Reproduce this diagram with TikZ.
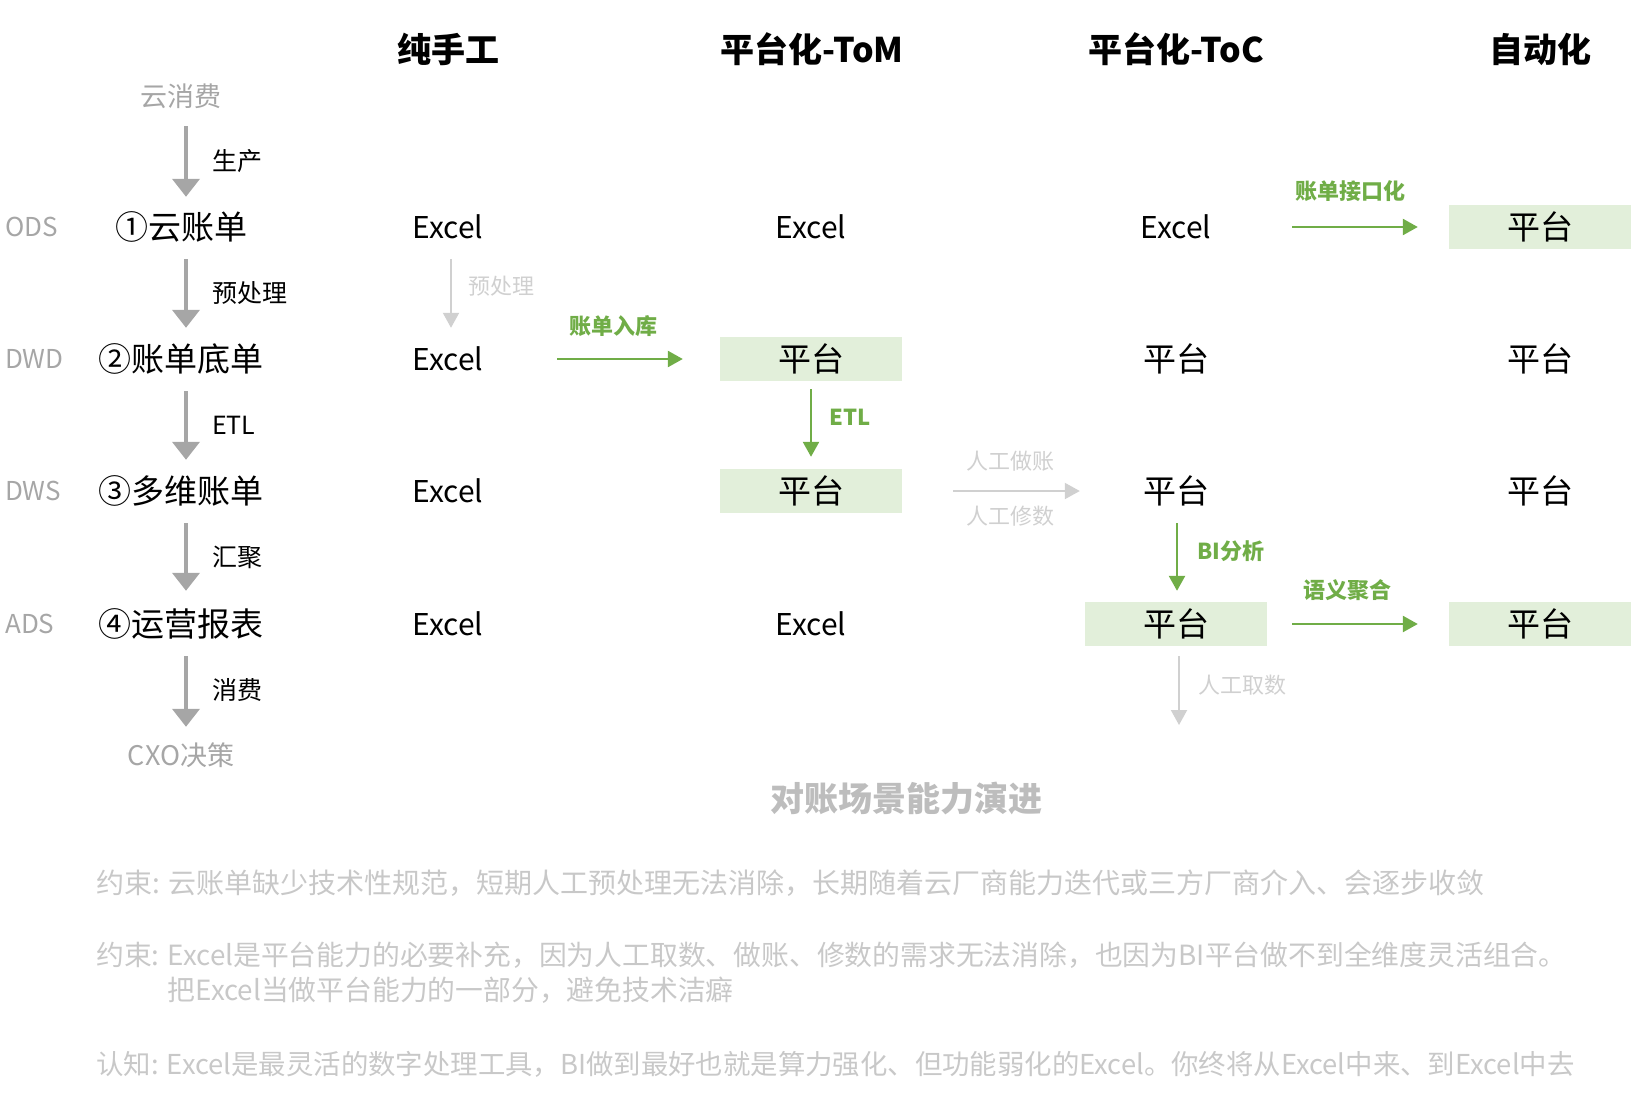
\documentclass[tikz,border=0pt]{standalone}
\usepackage{fontspec}
\setmainfont{Noto Sans CJK SC}
\usetikzlibrary{arrows.meta,positioning}
\definecolor{boxgreen}{HTML}{E2EFDA}
\definecolor{flowgreen}{HTML}{70AD47}
\definecolor{midgray}{HTML}{A6A6A6}
\definecolor{faintgray}{HTML}{D0D0D0}
\definecolor{notegray}{HTML}{C8C8C8}
\definecolor{titlegray}{HTML}{BDBDBD}
\tikzset{
  colhead/.style={font=\fontsize{34}{40}\selectfont\bfseries},
  layer/.style={anchor=west, text=midgray, font=\fontsize{26}{30}\selectfont, inner sep=0pt},
  stage/.style={font=\fontsize{33}{38}\selectfont, minimum height=44pt, inner sep=0pt},
  endpt/.style={text=midgray, font=\fontsize{27}{32}\selectfont, minimum height=44pt, inner sep=0pt},
  cell/.style={minimum width=182pt, minimum height=44pt, inner sep=0pt, font=\fontsize{33}{38}\selectfont},
  xls/.style={cell, font=\fontsize{30}{36}\selectfont},
  plat/.style={cell, fill=boxgreen},
  mainflow/.style={-{Triangle[length=18pt,width=27pt]}, line width=4pt, draw=midgray},
  greenflow/.style={-{Triangle[length=15pt,width=16pt]}, line width=2.5pt, draw=flowgreen},
  faintflow/.style={-{Triangle[length=15pt,width=16pt]}, line width=2pt, draw=faintgray},
  steplbl/.style={font=\fontsize{25}{30}\selectfont, inner sep=0pt},
  greenlbl/.style={text=flowgreen, font=\fontsize{22}{26}\selectfont\bfseries, inner sep=0pt},
  faintlbl/.style={text=faintgray, font=\fontsize{22}{26}\selectfont, inner sep=0pt},
  note/.style={anchor=west, text=notegray, font=\fontsize{28}{35}\selectfont, inner sep=0pt, align=left}
}

\begin{document}
\begin{tikzpicture}[x=1pt, y=-1pt]
  \useasboundingbox (0,0) rectangle (1646,1098);
  % column heads
  \node[colhead] (hd1) at (448,49) {纯手工};
  \node[colhead] (hd2) at (812,49) {平台化-ToM};
  \node[colhead] (hd3) at (1176,49) {平台化-ToC};
  \node[colhead] (hd4) at (1540,49) {自动化};
  % layer tags
  \node[layer] (ods) at (5,227) {ODS};
  \node[layer] (dwd) at (5,359) {DWD};
  \node[layer] (dws) at (5,491) {DWS};
  \node[layer] (ads) at (5,624) {ADS};
  % left chain
  \node[endpt] (src) at (181,96) {云消费};
  \node[stage] (bill) at (181,227) {①云账单};
  \node[stage] (base) at (181,359) {②账单底单};
  \node[stage] (multi) at (181,491) {③多维账单};
  \node[stage] (report) at (181,624) {④运营报表};
  \node[endpt] (cxo) at (181,755) {CXO决策};
  \draw[mainflow, shorten <=8pt, shorten >=8pt] ([xshift=5pt]src.south) --
        node[steplbl, right=24pt]{生产} ([xshift=5pt]bill.north);
  \draw[mainflow, shorten <=10pt, shorten >=9pt] ([xshift=5pt]bill.south) --
        node[steplbl, right=24pt]{预处理} ([xshift=5pt]base.north);
  \draw[mainflow, shorten <=10pt, shorten >=9pt] ([xshift=5pt]base.south) --
        node[steplbl, right=24pt]{ETL} ([xshift=5pt]multi.north);
  \draw[mainflow, shorten <=10pt, shorten >=11pt] ([xshift=5pt]multi.south) --
        node[steplbl, right=24pt]{汇聚} ([xshift=5pt]report.north);
  \draw[mainflow, shorten <=10pt, shorten >=6pt] ([xshift=5pt]report.south) --
        node[steplbl, right=24pt]{消费} ([xshift=5pt]cxo.north);
  % manual column
  \foreach \r/\y in {1/227,2/359,3/491,4/624}
    \node[xls] (man\r) at (448,\y) {Excel};
  % ToM column
  \node[xls] (tom1) at (811,227) {Excel};
  \node[plat] (tom2) at (811,359) {平台};
  \node[plat] (tom3) at (811,491) {平台};
  \node[xls] (tom4) at (811,624) {Excel};
  % ToC column
  \node[xls] (toc1) at (1176,227) {Excel};
  \node[cell] (toc2) at (1176,359) {平台};
  \node[cell] (toc3) at (1176,491) {平台};
  \node[plat] (toc4) at (1176,624) {平台};
  % automated column
  \node[plat] (auto1) at (1540,227) {平台};
  \node[cell] (auto2) at (1540,359) {平台};
  \node[cell] (auto3) at (1540,491) {平台};
  \node[plat] (auto4) at (1540,624) {平台};
  % transitions
  \draw[faintflow, shorten <=10pt, shorten >=9pt] ([xshift=3pt]man1.south) --
        node[faintlbl, right=16pt, yshift=7pt]{预处理} ([xshift=3pt]man2.north);
  \draw[greenflow, shorten <=18pt, shorten >=37pt] (man2.east) --
        node[greenlbl, xshift=-16pt, yshift=33pt]{账单入库} (tom2.west);
  \draw[greenflow, shorten <=8pt, shorten >=12pt] (tom2.south) --
        node[greenlbl, right=17pt, yshift=8pt]{ETL} (tom3.north);
  \draw[faintflow, shorten <=51pt, shorten >=5pt] (tom3.east) --
        node[faintlbl, xshift=17pt, yshift=30pt]{人工做账}
        node[faintlbl, xshift=17pt, yshift=-25pt]{人工修数} (toc3.west);
  \draw[greenflow, shorten <=25pt, shorten >=31pt] (toc1.east) --
        node[greenlbl, xshift=-8pt, yshift=36pt]{账单接口化} (auto1.west);
  \draw[greenflow, shorten <=10pt, shorten >=11pt] ([xshift=1pt]toc3.south) --
        node[greenlbl, right=19pt, yshift=6pt]{BI分析} ([xshift=1pt]toc4.north);
  \draw[greenflow, shorten <=25pt, shorten >=31pt] (toc4.east) --
        node[greenlbl, xshift=-11pt, yshift=34pt]{语义聚合} (auto4.west);
  \coordinate (fetch) at (1179,725);
  \draw[faintflow, shorten <=10pt] ([xshift=3pt]toc4.south) --
        node[faintlbl, right=18pt]{人工取数} (fetch);
  % title and notes
  \node[text=titlegray, font=\fontsize{34}{40}\selectfont\bfseries] (title) at (906,798) {对账场景能力演进};
  \node[note] (note1) at (96,883) {约束: 云账单缺少技术性规范，短期人工预处理无法消除，长期随着云厂商能力迭代或三方厂商介入、会逐步收敛};
  \node[note, font=\fontsize{27.8}{35}\selectfont] (note2) at (96,973) {约束: Excel是平台能力的必要补充，因为人工取数、做账、修数的需求无法消除，也因为BI平台做不到全维度灵活组合。\\\phantom{约束: }把Excel当做平台能力的一部分，避免技术洁癖};
  \node[note, font=\fontsize{27.4}{35}\selectfont] (note3) at (96,1064) {认知: Excel是最灵活的数字处理工具，BI做到最好也就是算力强化、但功能弱化的Excel。你终将从Excel中来、到Excel中去};
\end{tikzpicture}
\end{document}
